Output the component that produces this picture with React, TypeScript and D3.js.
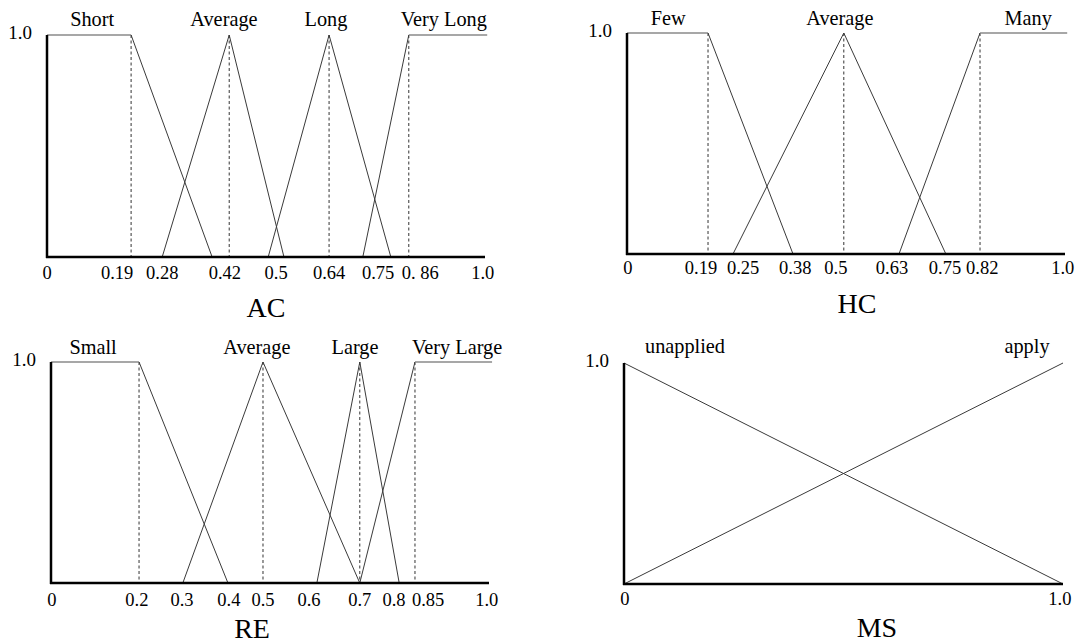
import React from 'react';
import * as d3 from 'd3';

// membership functions: [x, membership] breakpoints
const acSets = ['Short', 'Average', 'Long', 'Very Long'];
const acShapes = [
  [[0, 1], [0.192, 1], [0.377, 0]],
  [[0.263, 0], [0.416, 1], [0.541, 0]],
  [[0.505, 0], [0.644, 1], [0.785, 0]],
  [[0.721, 0], [0.826, 1], [1.005, 1]],
];
const acLabelAt = [0.103, 0.404, 0.637, 0.906];
const acDashes = [0.192, 0.416, 0.644, 0.826];
const acTickLabels = ['0', '0.19', '0.28', '0.42', '0.5', '0.64', '0.75', '0. 86', '1.0'];
const acTickAt = [0, 0.16, 0.263, 0.406, 0.523, 0.644, 0.756, 0.852, 0.995];

const hcSets = ['Few', 'Average', 'Many'];
const hcShapes = [
  [[0, 1], [0.185, 1], [0.379, 0]],
  [[0.242, 0], [0.495, 1], [0.728, 0]],
  [[0.621, 0], [0.806, 1], [1.005, 1]],
];
const hcLabelAt = [0.094, 0.486, 0.916];
const hcDashes = [0.185, 0.495, 0.806];
const hcTickLabels = ['0', '0.19', '0.25', '0.38', '0.5', '0.63', '0.75', '0.82', '1.0'];
const hcTickAt = [0.002, 0.169, 0.265, 0.384, 0.477, 0.605, 0.726, 0.811, 0.995];

const reSets = ['Small', 'Average', 'Large', 'Very Large'];
const reShapes = [
  [[0, 1], [0.201, 1], [0.404, 0]],
  [[0.301, 0], [0.484, 1], [0.705, 0]],
  [[0.607, 0], [0.705, 1], [0.795, 0]],
  [[0.705, 0], [0.831, 1], [1.007, 1]],
];
const reLabelAt = [0.096, 0.47, 0.694, 0.927];
const reDashes = [0.201, 0.484, 0.705, 0.831];
const reTickLabels = ['0', '0.2', '0.3', '0.4', '0.5', '0.6', '0.7', '0.8', '0.85', '1.0'];
const reTickAt = [0.002, 0.196, 0.299, 0.406, 0.484, 0.589, 0.705, 0.783, 0.861, 0.995];

const msSets = ['unapplied', 'apply'];
const msShapes = [
  [[0, 1], [1, 0]],
  [[0, 0], [1, 1]],
];
const msLabelAt = [0.139, 0.918];
const msDashes: number[] = [];
const msTickLabels = ['0', '1.0'];
const msTickAt = [0.002, 0.993];

const FONT = '"Liberation Serif", "Times New Roman", serif';

type PanelProps = {
  x0: number; x1: number; yTop: number; yBase: number;
  labelY: number; tickY: number; titleY: number; titleAt: number;
  title: string; sets: string[]; shapes: number[][][]; labelAt: number[];
  dashes: number[]; tickLabels: string[]; tickAt: number[];
};

function Panel(p: PanelProps) {
  const x = d3.scaleLinear().domain([0, 1]).range([p.x0, p.x1]);
  const y = d3.scaleLinear().domain([0, 1]).range([p.yBase, p.yTop]);

  return (
    <g fontFamily={FONT} fill="#000">
      {p.dashes.map((d, i) => (
        <line key={'d' + i} x1={x(d)} x2={x(d)} y1={y(1)} y2={y(0)}
          stroke="#333" strokeWidth={1} strokeDasharray="3,2.5" />
      ))}
      {p.shapes.map((pts, i) =>
        pts.slice(1).map((pt, j) => {
          const prev = pts[j];
          const flat = prev[1] === pt[1];
          return (
            <line key={`s${i}-${j}`} x1={x(prev[0])} y1={y(prev[1])} x2={x(pt[0])} y2={y(pt[1])}
              stroke={flat ? '#8a8a8a' : '#3a3a3a'} strokeWidth={flat ? 1.6 : 1} />
          );
        })
      )}
      <line x1={x(0)} x2={x(0)} y1={y(1)} y2={y(0) + 1} stroke="#000" strokeWidth={2.5} />
      <line x1={x(0) - 1} x2={x(1)} y1={y(0)} y2={y(0)} stroke="#000" strokeWidth={2.5} />
      <text x={x(0) - 15} y={y(1) + 4} textAnchor="end" fontSize={19}>1.0</text>
      {p.sets.map((s, i) => (
        <text key={'l' + i} x={x(p.labelAt[i])} y={p.labelY} textAnchor="middle" fontSize={20.3}>{s}</text>
      ))}
      {p.tickLabels.map((t, i) => (
        <text key={'t' + i} x={x(p.tickAt[i])} y={p.tickY} textAnchor="middle" fontSize={18.5}>{t}</text>
      ))}
      <text x={x(p.titleAt)} y={p.titleY} textAnchor="middle" fontSize={28}>{p.title}</text>
    </g>
  );
}

export default function App() {
  return (
    <svg width={1078} height={644} style={{ position: 'absolute', left: 0, top: 0, background: '#fff' }}>
      <rect width={1078} height={644} fill="#fff" />
      <Panel x0={47} x1={485} yTop={35} yBase={257} labelY={26} tickY={279} titleY={317} titleAt={0.5}
        title="AC" sets={acSets} shapes={acShapes} labelAt={acLabelAt} dashes={acDashes}
        tickLabels={acTickLabels} tickAt={acTickAt} />
      <Panel x0={627} x1={1065} yTop={33} yBase={254} labelY={25} tickY={274} titleY={313} titleAt={0.525}
        title="HC" sets={hcSets} shapes={hcShapes} labelAt={hcLabelAt} dashes={hcDashes}
        tickLabels={hcTickLabels} tickAt={hcTickAt} />
      <Panel x0={51} x1={489} yTop={362} yBase={583} labelY={354} tickY={606} titleY={638} titleAt={0.459}
        title="RE" sets={reSets} shapes={reShapes} labelAt={reLabelAt} dashes={reDashes}
        tickLabels={reTickLabels} tickAt={reTickAt} />
      <Panel x0={624} x1={1063} yTop={363} yBase={584} labelY={353} tickY={605} titleY={637} titleAt={0.576}
        title="MS" sets={msSets} shapes={msShapes} labelAt={msLabelAt} dashes={msDashes}
        tickLabels={msTickLabels} tickAt={msTickAt} />
    </svg>
  );
}
